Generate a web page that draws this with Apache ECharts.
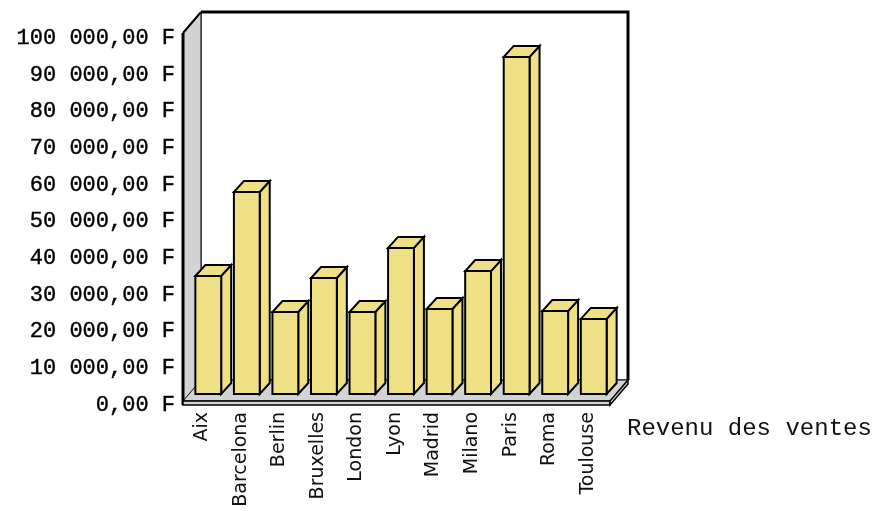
<!DOCTYPE html>
<html>
<head>
<meta charset="utf-8">
<script src="https://cdn.jsdelivr.net/npm/echarts@6/dist/echarts.min.js"></script>
<style>html,body{margin:0;padding:0;background:#fff}#c{width:882px;height:511px}</style>
</head>
<body>
<div id="c"></div>
<script>
const categories = ['Aix','Barcelona','Berlin','Bruxelles','London','Lyon','Madrid','Milano','Paris','Roma','Toulouse'];
const revenue = [32150, 55050, 22350, 31600, 22350, 39800, 23150, 33500, 91850, 22600, 20450];
const seriesName = 'Revenu des ventes';
const yMin = 0, yMax = 100000, yInterval = 10000;

function fmt(v) {
  const s = Math.round(v).toString().replace(/\B(?=(\d{3})+(?!\d))/g, ' ');
  return s + ',00 F';
}

const chart = echarts.init(document.getElementById('c'));
const DX = 18, DY = -21, SLAB = 4, TOPPAD = 5, RPAD = 3;
const WALL = '#d3d3d3', BAR = '#efe085';

chart.setOption({
  animation: false,
  backgroundColor: '#fff',
  grid: { left: 183, top: 38, width: 424, height: 367, containLabel: false, outerBoundsMode: 'none' },
  legend: {
    data: [{ name: seriesName, icon: 'none' }],
    left: 617, top: 412, itemWidth: 0, itemHeight: 0,
    textStyle: { fontFamily: 'Liberation Mono', fontSize: 24, color: '#111' }
  },
  xAxis: {
    type: 'category', data: categories,
    axisLine: { show: false }, axisTick: { show: false }, splitLine: { show: false },
    axisLabel: { rotate: 90, margin: 7, fontFamily: 'DejaVu Sans', fontSize: 19, color: '#111' }
  },
  yAxis: {
    type: 'value', min: yMin, max: yMax, interval: yInterval,
    axisLine: { show: false }, axisTick: { show: false }, splitLine: { show: false },
    axisLabel: { margin: 8, formatter: fmt, fontFamily: 'Liberation Mono', fontSize: 22, color: '#000',
      textBorderColor: '#000', textBorderWidth: 0.4 }
  },
  series: [
    {
      type: 'custom', name: 'box', silent: true, z: 1,
      data: [[0, 0]],
      renderItem(params, api) {
        const cs = params.coordSys;
        const L = cs.x, R = cs.x + cs.width + RPAD;
        const B = api.coord([0, yMin])[1];
        const T = api.coord([0, yMax])[1] - TOPPAD;
        const fb = B - SLAB; // floor top front
        return {
          type: 'group',
          children: [
            { type: 'rect', shape: { x: L + DX, y: T + DY, width: R - L, height: (fb + DY) - (T + DY) },
              style: { fill: '#fff', stroke: '#000', lineWidth: 1 } },
            { type: 'polyline', shape: { points: [[L + DX, T + DY], [R + DX, T + DY], [R + DX, fb + DY]] },
              style: { stroke: '#000', lineWidth: 3, fill: null } },
            { type: 'polygon', shape: { points: [[L, B], [L, T], [L + DX, T + DY], [L + DX, fb + DY]] },
              style: { fill: WALL, stroke: '#000', lineWidth: 1 } },
            { type: 'line', shape: { x1: L, y1: T, x2: L, y2: B }, style: { stroke: '#000', lineWidth: 3 } },
            { type: 'line', shape: { x1: L, y1: T, x2: L + DX, y2: T + DY }, style: { stroke: '#000', lineWidth: 2 } },
            { type: 'polygon', shape: { points: [[L, fb], [R, fb], [R + DX, fb + DY], [L + DX, fb + DY]] },
              style: { fill: WALL, stroke: '#000', lineWidth: 1 } },
            { type: 'rect', shape: { x: L, y: fb, width: R - L, height: SLAB },
              style: { fill: WALL, stroke: '#000', lineWidth: 1.5 } },
            { type: 'polygon', shape: { points: [[R, fb], [R + DX, fb + DY], [R + DX, B + DY], [R, B]] },
              style: { fill: WALL, stroke: '#000', lineWidth: 1.5 } }
          ]
        };
      }
    },
    {
      type: 'custom', name: seriesName, z: 2,
      data: revenue.map((v, i) => [i, v]),
      encode: { x: 0, y: 1 },
      renderItem(params, api) {
        const i = api.value(0), v = api.value(1);
        const base = api.coord([i, 0]);
        const top = api.coord([i, v]);
        const bw = api.size([1, 0])[0] * 0.67;
        const ox = 6, oy = -11, dx = 10, dy = -11;
        const cx = base[0] + ox;
        const x0 = cx - bw / 2, x1 = cx + bw / 2;
        const yb = base[1] + oy, yt = top[1] + oy;
        const st = { fill: BAR, stroke: '#000', lineWidth: 2, lineJoin: 'miter' };
        return {
          type: 'group',
          children: [
            { type: 'polygon', shape: { points: [[x1, yt], [x1 + dx, yt + dy], [x1 + dx, yb + dy], [x1, yb]] }, style: st },
            { type: 'polygon', shape: { points: [[x0, yt], [x0 + dx, yt + dy], [x1 + dx, yt + dy], [x1, yt]] }, style: st },
            { type: 'rect', shape: { x: x0, y: yt, width: bw, height: yb - yt }, style: st }
          ]
        };
      }
    }
  ]
});
</script>
</body>
</html>
